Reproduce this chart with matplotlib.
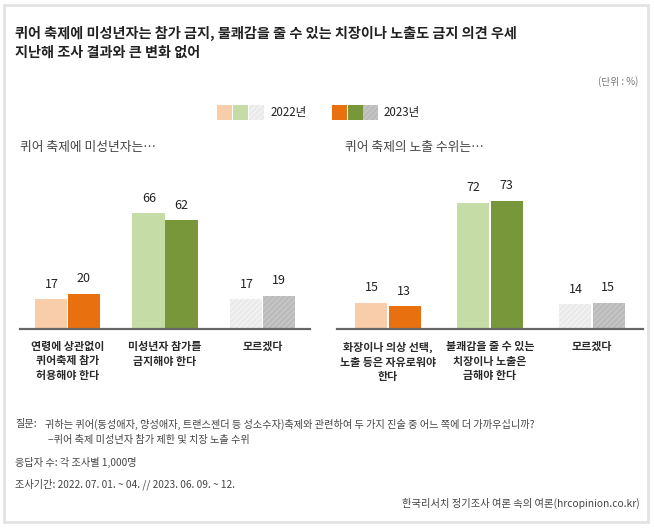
import matplotlib
matplotlib.use("Agg")
import matplotlib.pyplot as plt
from matplotlib.patches import Rectangle

plt.rcParams['font.family'] = ['Noto Sans CJK KR', 'DejaVu Sans']
plt.rcParams['hatch.linewidth'] = 0.8

# ---- data ----
years = ["2022년", "2023년"]
left_title = "퀴어 축제에 미성년자는…"
left_cats = ["연령에 상관없이\n퀴어축제 참가\n허용해야 한다", "미성년자 참가를\n금지해야 한다", "모르겠다"]
left_2022 = [17, 66, 17]
left_2023 = [20, 62, 19]

right_title = "퀴어 축제의 노출 수위는…"
right_cats = ["화장이나 의상 선택,\n노출 등은 자유로워야\n한다", "불쾌감을 줄 수 있는\n치장이나 노출은\n금해야 한다", "모르겠다"]
right_2022 = [15, 72, 14]
right_2023 = [13, 73, 15]

colors_2022 = ["#F9CDAA", "#C6DCA6", "#EAEAEA"]
colors_2023 = ["#E8700F", "#77973A", "#BBBBBB"]
hatch_2022 = [None, None, "//////"]
hatch_2023 = [None, None, "//////"]
hatch_edge_2022 = "#F6F6F6"
hatch_edge_2023 = "#CACACA"

W, H = 654, 528
fig = plt.figure(figsize=(W / 100, H / 100), dpi=100)
fig.patch.set_facecolor("white")


def fx(x):
    return x / W


def fy(y):
    return 1 - y / H


# card border
fig.patches.append(Rectangle((fx(4), fy(522)), fx(648) - fx(4), fy(5) - fy(522),
                             transform=fig.transFigure, fill=False,
                             edgecolor="#E2E2E2", linewidth=2))

# Title
fig.text(fx(15), fy(33), "퀴어 축제에 미성년자는 참가 금지, 불쾌감을 줄 수 있는 치장이나 노출도 금지 의견 우세",
         fontsize=10.2, fontweight="bold", color="#222222", va="center", ha="left")
fig.text(fx(15), fy(53), "지난해 조사 결과와 큰 변화 없어",
         fontsize=10.2, fontweight="bold", color="#222222", va="center", ha="left")
fig.text(fx(638), fy(82), "(단위 : %)", fontsize=7, color="#777777", va="center", ha="right")

# Legend
leg_y1 = 120
for i, c in enumerate(colors_2022):
    x0 = 217 + i * 16.2
    fig.patches.append(Rectangle((fx(x0), fy(leg_y1)), fx(15), fy(0) - fy(15),
                                 transform=fig.transFigure, facecolor=c,
                                 edgecolor=hatch_edge_2022 if hatch_2022[i] else c,
                                 hatch=hatch_2022[i], linewidth=0))
fig.text(fx(271), fy(112.5), years[0], fontsize=8.3, color="#222222", va="center", ha="left")
for i, c in enumerate(colors_2023):
    x0 = 332 + i * 15.5
    fig.patches.append(Rectangle((fx(x0), fy(leg_y1)), fx(15), fy(0) - fy(15),
                                 transform=fig.transFigure, facecolor=c,
                                 edgecolor=hatch_edge_2023 if hatch_2023[i] else c,
                                 hatch=hatch_2023[i], linewidth=0))
fig.text(fx(384), fy(112.5), years[1], fontsize=8.3, color="#222222", va="center", ha="left")

px_per_unit = 1.755
base_y = 329
top_y = 160
ymax = (base_y - top_y) / px_per_unit


def panel(x_left, x_right, cats, v22, v23, title, title_x, bw, half):
    ax = fig.add_axes([fx(x_left), fy(base_y), fx(x_right) - fx(x_left), fy(top_y) - fy(base_y)])
    ax.set_xlim(-half, 2 + half)
    ax.set_ylim(0, ymax)
    ax.axis("off")
    ax.axhline(0, color="#666666", linewidth=1.6, zorder=5, clip_on=False)
    for i in range(len(cats)):
        ax.bar(i - bw / 2 - 0.005, v22[i], width=bw, color=colors_2022[i],
               edgecolor=hatch_edge_2022 if hatch_2022[i] else colors_2022[i],
               hatch=hatch_2022[i], linewidth=0)
        ax.bar(i + bw / 2 + 0.005, v23[i], width=bw, color=colors_2023[i],
               edgecolor=hatch_edge_2023 if hatch_2023[i] else colors_2023[i],
               hatch=hatch_2023[i], linewidth=0)
        ax.annotate(str(v22[i]), (i - bw / 2, v22[i]), xytext=(0, 15), textcoords="offset pixels",
                    ha="center", va="center", fontsize=9, color="#222222")
        ax.annotate(str(v23[i]), (i + bw / 2, v23[i]), xytext=(0, 15), textcoords="offset pixels",
                    ha="center", va="center", fontsize=9, color="#222222")
        ax.annotate(cats[i], (i, 0), xytext=(0, -13), textcoords="offset pixels",
                    ha="center", va="top", fontsize=7.9, color="#2a2a2a",
                    linespacing=1.55, fontweight="bold")
    fig.text(fx(title_x), fy(148), title, fontsize=9.2, color="#444444", va="center", ha="left")
    return ax


panel(20, 310, left_cats, left_2022, left_2023, left_title, 20, 0.33, 0.487)
panel(337, 643, right_cats, right_2022, right_2023, right_title, 345, 0.32, 0.5)

# footnotes
fn = 7.3
fc = "#444444"
fig.text(fx(15), fy(424), "질문:", fontsize=fn, color=fc, va="center", ha="left")
fig.text(fx(45), fy(424), "귀하는 퀴어(동성애자, 양성애자, 트랜스젠더 등 성소수자)축제와 관련하여 두 가지 진술 중 어느 쪽에 더 가까우십니까?",
         fontsize=fn, color=fc, va="center", ha="left")
fig.text(fx(48), fy(440), "−퀴어 축제 미성년자 참가 제한 및 치장 노출 수위",
         fontsize=fn, color=fc, va="center", ha="left")
fig.text(fx(15), fy(462), "응답자 수: 각 조사별 1,000명", fontsize=fn, color=fc, va="center", ha="left")
fig.text(fx(15), fy(484), "조사기간: 2022. 07. 01. ~ 04. // 2023. 06. 09. ~ 12.", fontsize=fn, color=fc,
         va="center", ha="left")
fig.text(fx(640), fy(503), "한국리서치 정기조사 여론 속의 여론(hrcopinion.co.kr)", fontsize=7.4, color=fc,
         va="center", ha="right")

fig.savefig("out.png", dpi=100, facecolor="white")
